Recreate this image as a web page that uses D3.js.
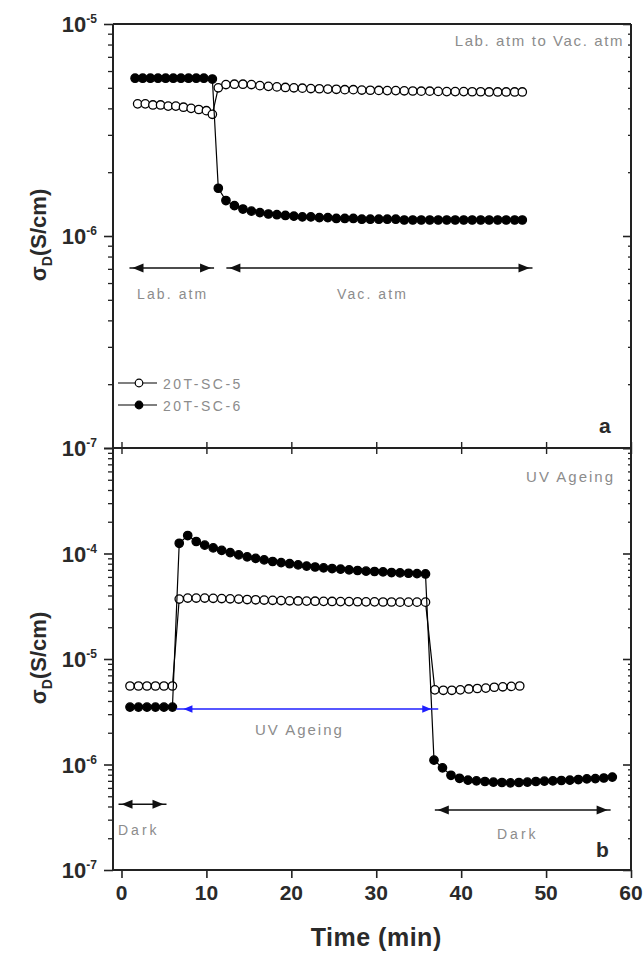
<!DOCTYPE html>
<html><head><meta charset="utf-8">
<script src="https://cdn.jsdelivr.net/npm/d3@7"></script>
<style>body{margin:0;background:#fff}svg{display:block}</style>
</head><body>
<script>
// ---------- data ----------
const timeTicks = [0, 10, 20, 30, 40, 50, 60];
const decadesTop = [-7, -6, -5];
const decadesBot = [-7, -6, -5, -4, -3];
const labelDecadesTop = [-7, -6, -5];
const labelDecadesBot = [-7, -6, -5, -4];

// panel a : Lab. atm -> Vac. atm
const aTimePre5 = [1.9, 2.8, 3.7, 4.6, 5.5, 6.4, 7.3, 8.2, 9.1, 10.0, 10.7];
const aTimePre6 = [1.6, 2.5, 3.4, 4.3, 5.2, 6.1, 7.0, 7.9, 8.8, 9.7, 10.7];
const aTimePost = [11.4, 12.3, 13.3, 14.3, 15.3, 16.3, 17.3, 18.3, 19.3, 20.3, 21.3, 22.3, 23.3, 24.3, 25.3, 26.3, 27.3, 28.3, 29.3, 30.3, 31.3, 32.3, 33.3, 34.3, 35.3, 36.3, 37.3, 38.3, 39.3, 40.3, 41.3, 42.3, 43.3, 44.3, 45.3, 46.3, 47.2];
const aSC5Pre = [4.2e-6, 4.2e-6, 4.15e-6, 4.15e-6, 4.1e-6, 4.1e-6, 4.05e-6, 4.0e-6, 3.95e-6, 3.9e-6, 3.75e-6];
const aSC5Post = [5.0e-6, 5.18e-6, 5.2e-6, 5.2e-6, 5.18e-6, 5.12e-6, 5.08e-6, 5.05e-6, 5.02e-6, 5.0e-6, 4.98e-6, 4.96e-6, 4.95e-6, 4.93e-6, 4.92e-6, 4.9e-6, 4.9e-6, 4.88e-6, 4.87e-6, 4.86e-6, 4.85e-6, 4.85e-6, 4.84e-6, 4.83e-6, 4.82e-6, 4.82e-6, 4.81e-6, 4.8e-6, 4.8e-6, 4.8e-6, 4.79e-6, 4.79e-6, 4.78e-6, 4.78e-6, 4.78e-6, 4.78e-6, 4.78e-6];
const aSC6Pre = [5.55e-6, 5.55e-6, 5.55e-6, 5.55e-6, 5.55e-6, 5.55e-6, 5.55e-6, 5.55e-6, 5.55e-6, 5.55e-6, 5.5e-6];
const aSC6Post = [1.68e-6, 1.47e-6, 1.39e-6, 1.34e-6, 1.31e-6, 1.29e-6, 1.27e-6, 1.26e-6, 1.25e-6, 1.24e-6, 1.23e-6, 1.23e-6, 1.22e-6, 1.22e-6, 1.21e-6, 1.21e-6, 1.21e-6, 1.2e-6, 1.2e-6, 1.2e-6, 1.2e-6, 1.2e-6, 1.19e-6, 1.19e-6, 1.19e-6, 1.19e-6, 1.19e-6, 1.19e-6, 1.19e-6, 1.19e-6, 1.19e-6, 1.19e-6, 1.19e-6, 1.19e-6, 1.19e-6, 1.19e-6, 1.19e-6];

// panel b : Dark -> UV ageing -> Dark
const bTimePre = [1, 2, 3, 4, 5, 6];
const bTimeUV = [6.8, 7.8, 8.8, 9.8, 10.8, 11.8, 12.8, 13.8, 14.8, 15.8, 16.8, 17.8, 18.8, 19.8, 20.8, 21.8, 22.8, 23.8, 24.8, 25.8, 26.8, 27.8, 28.8, 29.8, 30.8, 31.8, 32.8, 33.8, 34.8, 35.8];
const bTimePost5 = [36.9, 37.9, 38.9, 39.9, 40.9, 41.9, 42.9, 43.9, 44.9, 45.9, 46.9];
const bTimePost6 = [36.8, 37.8, 38.8, 39.8, 40.8, 41.8, 42.8, 43.8, 44.8, 45.8, 46.8, 47.8, 48.8, 49.8, 50.8, 51.8, 52.8, 53.8, 54.8, 55.8, 56.8, 57.8];
const bSC5Pre = [5.55e-6, 5.55e-6, 5.55e-6, 5.55e-6, 5.55e-6, 5.55e-6];
const bSC5UV = [3.7e-5, 3.78e-5, 3.78e-5, 3.78e-5, 3.76e-5, 3.74e-5, 3.72e-5, 3.7e-5, 3.66e-5, 3.64e-5, 3.62e-5, 3.6e-5, 3.58e-5, 3.56e-5, 3.55e-5, 3.54e-5, 3.53e-5, 3.52e-5, 3.51e-5, 3.5e-5, 3.5e-5, 3.49e-5, 3.48e-5, 3.48e-5, 3.47e-5, 3.47e-5, 3.46e-5, 3.46e-5, 3.46e-5, 3.46e-5];
const bSC5Post = [5.1e-6, 5.05e-6, 5.05e-6, 5.1e-6, 5.2e-6, 5.25e-6, 5.3e-6, 5.4e-6, 5.45e-6, 5.5e-6, 5.55e-6];
const bSC6Pre = [3.5e-6, 3.5e-6, 3.5e-6, 3.5e-6, 3.5e-6, 3.5e-6];
const bSC6UV = [1.25e-4, 1.48e-4, 1.3e-4, 1.2e-4, 1.13e-4, 1.07e-4, 1.02e-4, 9.7e-5, 9.3e-5, 9.0e-5, 8.7e-5, 8.4e-5, 8.2e-5, 8.0e-5, 7.8e-5, 7.6e-5, 7.45e-5, 7.3e-5, 7.2e-5, 7.1e-5, 7.0e-5, 6.9e-5, 6.8e-5, 6.75e-5, 6.7e-5, 6.6e-5, 6.55e-5, 6.5e-5, 6.45e-5, 6.4e-5];
const bSC6Post = [1.1e-6, 9.3e-7, 7.9e-7, 7.4e-7, 7.1e-7, 7.0e-7, 6.9e-7, 6.8e-7, 6.75e-7, 6.7e-7, 6.75e-7, 6.8e-7, 6.9e-7, 6.95e-7, 7.0e-7, 7.05e-7, 7.1e-7, 7.2e-7, 7.3e-7, 7.35e-7, 7.45e-7, 7.6e-7];

const seriesNames = ["20T-SC-5", "20T-SC-6"];

// annotation arrows: [t1, t2, value]
const aArrows = [[0.94, 10.9, 7.06e-7], [12.35, 48.4, 7.06e-7]];
const bArrowUV = [6.47, 37.3, 3.36e-6];
const bArrowsDark = [[-0.35, 5.3, 4.2e-7], [36.9, 57.6, 3.7e-7]];

// ---------- layout ----------
const W = 643, H = 953;
const L = 113, R = 631, T1 = 24, B1 = 448, B2 = 870;
const axisColor = "#222", textColor = "#2a2a2a", noteColor = "#8c8c8c";
const FONT = "'Liberation Sans', Arial, sans-serif";
const MR = 4.2;

const svg = d3.select("body").append("svg").attr("width", W).attr("height", H)
  .style("font-family", FONT);

const x = d3.scaleLinear().domain([-1, 60]).range([L, R]);
const yA = d3.scaleLog().domain([1e-7, 1e-5]).range([B1, T1]);
const yB = d3.scaleLog().domain([1e-7, 1e-3]).range([B2, B1]);

function zip(ts, vs) { return ts.map((t, i) => ({t: t, v: vs[i]})); }

function minorVals(decs) {
  const out = [];
  decs.slice(0, -1).forEach(d => { for (let k = 2; k <= 9; k++) out.push(k * Math.pow(10, d)); });
  return out;
}

function styleAxis(g, w) {
  g.select(".domain").remove();
  g.selectAll("line").attr("stroke", axisColor).attr("stroke-width", w);
}

function yAxes(y, decs, labelDecs) {
  const majors = decs.map(d => Math.pow(10, d));
  const minors = minorVals(decs);
  svg.append("g").attr("transform", `translate(${L},0)`)
    .call(d3.axisLeft(y).tickValues(majors).tickSize(9).tickFormat(() => ""))
    .call(g => styleAxis(g, 1.6));
  svg.append("g").attr("transform", `translate(${L},0)`)
    .call(d3.axisLeft(y).tickValues(minors).tickSize(5).tickFormat(() => ""))
    .call(g => styleAxis(g, 1.3));
  svg.append("g").attr("transform", `translate(${R},0)`)
    .call(d3.axisLeft(y).tickValues(majors).tickSize(8).tickFormat(() => ""))
    .call(g => styleAxis(g, 1.6));
  svg.append("g").attr("transform", `translate(${R},0)`)
    .call(d3.axisLeft(y).tickValues(minors).tickSize(3).tickFormat(() => ""))
    .call(g => styleAxis(g, 1.3));
  labelDecs.forEach(d => {
    const t = svg.append("text").attr("x", 97).attr("y", y(Math.pow(10, d)) + 8)
      .attr("text-anchor", "end").attr("fill", textColor)
      .style("font-weight", "bold").style("font-size", "22px");
    t.append("tspan").text("10");
    t.append("tspan").attr("dy", -9).style("font-size", "12px").text(String(d));
  });
}

yAxes(yA, decadesTop, labelDecadesTop);
yAxes(yB, decadesBot, labelDecadesBot);

// x axes
svg.append("g").attr("transform", `translate(0,${B2})`)
  .call(d3.axisBottom(x).tickValues(timeTicks).tickSize(8).tickFormat(() => ""))
  .call(g => styleAxis(g, 1.6));
svg.append("g").attr("transform", `translate(0,${B1})`)
  .call(d3.axisBottom(x).tickValues(timeTicks).tickSize(6).tickFormat(() => ""))
  .call(g => styleAxis(g, 1.4));
svg.append("g").attr("transform", `translate(0,${B1})`)
  .call(d3.axisTop(x).tickValues(timeTicks).tickSize(6).tickFormat(() => ""))
  .call(g => styleAxis(g, 1.4));

svg.append("g").selectAll("text").data(timeTicks).join("text")
  .attr("x", d => x(d)).attr("y", 900).attr("text-anchor", "middle")
  .attr("fill", textColor).style("font-weight", "bold").style("font-size", "21px")
  .text(d => d);

// frame
const frame = svg.append("g").attr("stroke", axisColor).attr("fill", "none");
frame.append("line").attr("x1", L).attr("x2", L).attr("y1", T1).attr("y2", B2).attr("stroke-width", 2);
frame.append("line").attr("x1", R).attr("x2", R).attr("y1", T1).attr("y2", B2).attr("stroke-width", 2);
frame.append("line").attr("x1", L).attr("x2", R).attr("y1", T1).attr("y2", T1).attr("stroke-width", 1.8);
frame.append("line").attr("x1", L).attr("x2", R).attr("y1", B1).attr("y2", B1).attr("stroke-width", 1.8);
frame.append("line").attr("x1", L).attr("x2", R).attr("y1", B2).attr("y2", B2).attr("stroke-width", 2);

// axis titles
svg.append("text").attr("x", x(30)).attr("y", 946).attr("text-anchor", "middle")
  .attr("fill", textColor).style("font-weight", "bold").style("font-size", "25px")
  .style("letter-spacing", "0.5px").text("Time (min)");

function yTitle(cy) {
  const t = svg.append("text").attr("transform", `translate(46,${cy}) rotate(-90)`)
    .attr("text-anchor", "middle").attr("fill", textColor)
    .style("font-weight", "bold").style("font-size", "22px");
  t.append("tspan").text("σ");
  t.append("tspan").attr("dy", 6).style("font-size", "14px").text("D");
  t.append("tspan").attr("dy", -6).text("(S/cm)");
}
yTitle(235);
yTitle(658);

// series
function drawSeries(pts, y, filled) {
  const line = d3.line().x(d => x(d.t)).y(d => y(d.v));
  svg.append("path").datum(pts).attr("d", line)
    .attr("fill", "none").attr("stroke", "#000").attr("stroke-width", 1.2);
  svg.append("g").selectAll("circle").data(pts).join("circle")
    .attr("cx", d => x(d.t)).attr("cy", d => y(d.v)).attr("r", MR)
    .attr("fill", filled ? "#000" : "#fff").attr("stroke", "#000").attr("stroke-width", 1.3);
}

drawSeries(zip(aTimePre5.concat(aTimePost), aSC5Pre.concat(aSC5Post)), yA, false);
drawSeries(zip(aTimePre6.concat(aTimePost), aSC6Pre.concat(aSC6Post)), yA, true);
drawSeries(zip(bTimePre.concat(bTimeUV, bTimePost5), bSC5Pre.concat(bSC5UV, bSC5Post)), yB, false);
drawSeries(zip(bTimePre.concat(bTimeUV, bTimePost6), bSC6Pre.concat(bSC6UV, bSC6Post)), yB, true);

// arrows
function arrow(a, y, color, inset, len, hw, sw) {
  const x1 = x(a[0]), x2 = x(a[1]), yy = y(a[2]);
  svg.append("line").attr("x1", x1).attr("x2", x2).attr("y1", yy).attr("y2", yy)
    .attr("stroke", color).attr("stroke-width", sw);
  const l = x1 + inset, r = x2 - inset;
  svg.append("path").attr("d", `M${l},${yy}L${l + len},${yy - hw}L${l + len},${yy + hw}Z`).attr("fill", color);
  svg.append("path").attr("d", `M${r},${yy}L${r - len},${yy - hw}L${r - len},${yy + hw}Z`).attr("fill", color);
}
aArrows.forEach(a => arrow(a, yA, "#111", 3, 11, 4.5, 1.4));
arrow(bArrowUV, yB, "#1f1fff", 7, 9, 3.8, 1.6);
bArrowsDark.forEach(a => arrow(a, yB, "#111", 3, 11, 4.5, 1.4));

// notes
function note(txt, xx, yy, anchor, size, ls) {
  svg.append("text").attr("x", xx).attr("y", yy).attr("text-anchor", anchor)
    .attr("fill", noteColor).style("font-size", size + "px").style("letter-spacing", ls + "px")
    .text(txt);
}
note("Lab. atm to Vac. atm", 624, 46, "end", 15, 1.6);
note("Lab. atm", 137, 299, "start", 14, 2.1);
note("Vac. atm", 337, 299, "start", 14, 2.1);
note("UV Ageing", 615, 482, "end", 15, 2);
note("UV Ageing", 255, 735, "start", 15, 2);
note("Dark", 118, 835, "start", 14, 3);
note("Dark", 497, 839, "start", 14, 3);

// panel letters
svg.append("text").attr("x", 599).attr("y", 433).attr("fill", textColor)
  .style("font-weight", "bold").style("font-size", "21px").text("a");
svg.append("text").attr("x", 596).attr("y", 857).attr("fill", textColor)
  .style("font-weight", "bold").style("font-size", "21px").text("b");

// legend
const legY = [383, 405];
seriesNames.forEach((n, i) => {
  svg.append("line").attr("x1", 118).attr("x2", 157).attr("y1", legY[i]).attr("y2", legY[i])
    .attr("stroke", "#000").attr("stroke-width", 1.2);
  svg.append("circle").attr("cx", 139).attr("cy", legY[i]).attr("r", 3.8)
    .attr("fill", i === 0 ? "#fff" : "#000").attr("stroke", "#000").attr("stroke-width", 1.2);
  svg.append("text").attr("x", 163).attr("y", legY[i] + 6).attr("fill", noteColor)
    .style("font-size", "14px").style("letter-spacing", "2.5px").text(n);
});
</script>
</body></html>
